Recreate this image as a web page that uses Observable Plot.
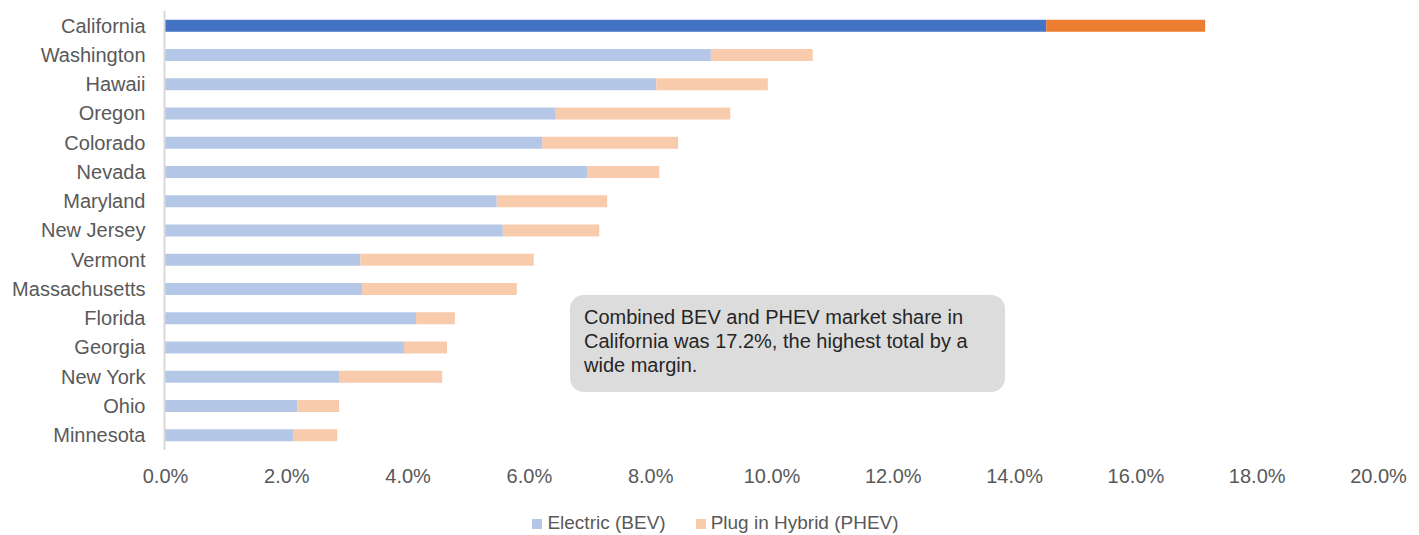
<!DOCTYPE html>
<html>
<head>
<meta charset="utf-8">
<script src="https://cdn.jsdelivr.net/npm/d3@7"></script>
<script src="https://cdn.jsdelivr.net/npm/@observablehq/plot@0.6"></script>
<style>
  html, body { margin: 0; padding: 0; background: #fff; }
  body { width: 1419px; height: 535px; overflow: hidden; font-family: "Liberation Sans", Arial, sans-serif; }
  #wrap { position: relative; width: 1419px; }
  #note {
    position: absolute; left: 570px; top: 295px; width: 435px; height: 97px;
    box-sizing: border-box; padding: 10px 14px 0 14px;
    background: #dcdcdc; border-radius: 14px;
    font-size: 20px; line-height: 24px; color: #262626;
  }
  #legend {
    display: flex; justify-content: center; gap: 30px; align-items: center;
    font-size: 19px; color: #595959; height: 35px; padding-left: 12px; margin-top: 5px;
  }
  #legend span.sw { display: inline-block; width: 10px; height: 10px; margin-right: 5px; }
</style>
</head>
<body>
<div id="wrap">
  <div id="chart"></div>
  <div id="note">Combined BEV and PHEV market share in California was 17.2%, the highest total by a wide margin.</div>
  <div id="legend"></div>
</div>
<script>
const states = ["California","Washington","Hawaii","Oregon","Colorado","Nevada","Maryland","New Jersey","Vermont","Massachusetts","Florida","Georgia","New York","Ohio","Minnesota"];
const bev  = [14.53, 9.00, 8.10, 6.43, 6.22, 6.97, 5.47, 5.57, 3.22, 3.25, 4.14, 3.94, 2.87, 2.18, 2.11];
const phev = [2.62, 1.68, 1.84, 2.89, 2.24, 1.18, 1.82, 1.59, 2.86, 2.55, 0.64, 0.71, 1.70, 0.69, 0.73];
const seriesNames = ["Electric (BEV)", "Plug in Hybrid (PHEV)"];
const xTicks = [0, 0.02, 0.04, 0.06, 0.08, 0.10, 0.12, 0.14, 0.16, 0.18, 0.20];

const colors = {
  highlight: ["#4472C4", "#ED7D31"],
  normal: ["#B4C7E7", "#F8CBAD"]
};

const rows = [];
states.forEach((s, i) => {
  const pal = s === "California" ? colors.highlight : colors.normal;
  rows.push({state: s, type: seriesNames[0], value: bev[i] / 100, color: pal[0]});
  rows.push({state: s, type: seriesNames[1], value: phev[i] / 100, color: pal[1]});
});

const chart = Plot.plot({
  width: 1419,
  height: 500,
  marginLeft: 165,
  marginRight: 41,
  marginTop: 11,
  marginBottom: 50,
  style: {fontFamily: "'Liberation Sans', Arial, sans-serif", fontSize: "20px", color: "#595959", background: "#fff"},
  x: {domain: [0, 0.2], ticks: xTicks, tickFormat: d => (d * 100).toFixed(1) + "%", tickSize: 0, tickPadding: 18, label: null},
  y: {domain: states, paddingInner: 0.59, paddingOuter: 0.3, round: false, tickSize: 0, tickPadding: 20, label: null},
  color: {type: "identity"},
  marks: [
    Plot.barX(rows, {x: "value", y: "state", z: "type", fill: "color", order: null}),
    Plot.ruleX([0], {stroke: "#d9d9d9", strokeWidth: 2, dx: -1})
  ]
});
chart.querySelectorAll("text").forEach(t => t.setAttribute("fill", "#595959"));
document.getElementById("chart").appendChild(chart);

const leg = document.getElementById("legend");
seriesNames.forEach((n, i) => {
  const item = document.createElement("div");
  item.innerHTML = `<span class="sw" style="background:${colors.normal[i]}"></span>${n}`;
  leg.appendChild(item);
});
</script>
</body>
</html>
